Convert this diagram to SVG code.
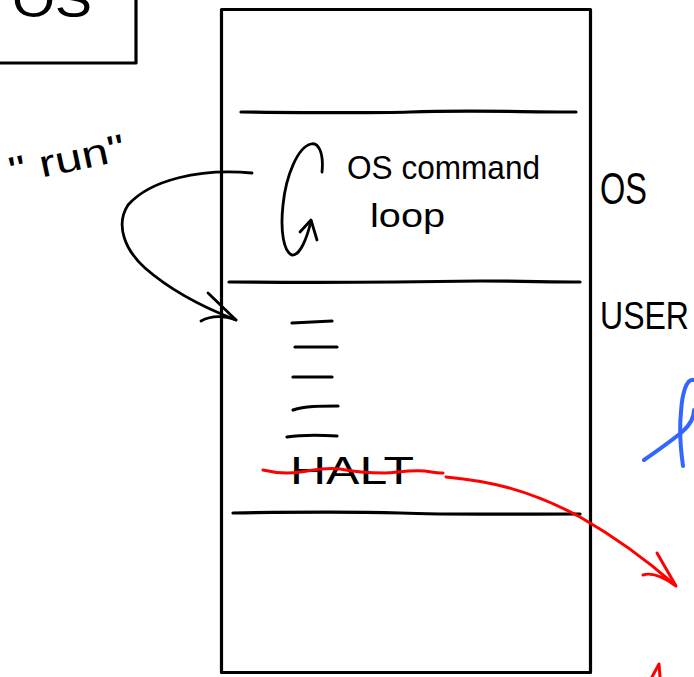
<svg xmlns="http://www.w3.org/2000/svg" width="694" height="677" viewBox="0 0 694 677">
  <style>
    .ink { fill: none; stroke: #000; stroke-width: 3.2; stroke-linecap: round; stroke-linejoin: round; }
    .thin { fill: none; stroke: #000; stroke-width: 2.8; stroke-linecap: round; stroke-linejoin: round; }
    .red { fill: none; stroke: #ff0000; stroke-width: 3; stroke-linecap: round; stroke-linejoin: round; }
    .blue { fill: none; stroke: #3366ff; stroke-width: 4; stroke-linecap: round; stroke-linejoin: round; }
    .hand { font-family: "Liberation Sans", "DejaVu Sans", sans-serif; fill: #000; }
  </style>

  <!-- title box in the corner -->
  <g id="title-box">
    <path class="ink" d="M0,63 L136,63 L136,0" stroke-width="4"/>
    <text class="hand" x="12" y="17" font-size="50" textLength="80" lengthAdjust="spacingAndGlyphs">OS</text>
  </g>

  <!-- memory column -->
  <g id="memory">
    <rect class="ink" x="221.5" y="9.5" width="369" height="663" stroke-linejoin="miter"/>
    <path class="ink" d="M241,112 C330,113 380,113 410,112 C470,110 520,112 576,112"/>
    <path class="ink" d="M229,282 C330,283 420,282 480,281 C520,281 550,282 580,282"/>
    <path class="ink" d="M233,513 C300,512 360,512 400,513 C450,515 520,514 580,514"/>
  </g>

  <!-- OS region -->
  <g id="os-region">
    <text class="hand" x="347" y="179" font-size="34" textLength="193" lengthAdjust="spacingAndGlyphs">OS command</text>
    <text class="hand" x="370" y="227" font-size="34" textLength="75" lengthAdjust="spacingAndGlyphs">loop</text>
    <path class="thin" d="M322,172 C324,152 318,142 311,144 C298,147 286,175 283,205 C280,232 284,252 292,255 C300,256 307,238 311,221"/>
    <path class="thin" d="M300,232 L311,220 L317,240"/>
  </g>

  <!-- user region -->
  <g id="user-region">
    <path class="ink" d="M292,323 L332,321"/>
    <path class="ink" d="M295,347 L337,347"/>
    <path class="ink" d="M293,377 L332,377"/>
    <path class="ink" d="M293,410 C305,406 320,406 338,406"/>
    <path class="ink" d="M287,437 C300,435 320,435 337,436"/>
    <text class="hand" x="290" y="484" font-size="39" textLength="124" lengthAdjust="spacingAndGlyphs">HALT</text>
  </g>

  <!-- side labels -->
  <g id="side-labels">
    <text class="hand" x="600" y="204" font-size="44" textLength="47" lengthAdjust="spacingAndGlyphs">OS</text>
    <text class="hand" x="600" y="329" font-size="38" textLength="89" lengthAdjust="spacingAndGlyphs">USER</text>
  </g>

  <!-- command label -->
  <g id="run-label">
    <text class="hand" x="12" y="184" font-size="38" textLength="118" lengthAdjust="spacingAndGlyphs" transform="rotate(-12 12 184)">" run"</text>
  </g>

  <!-- connectors -->
  <g id="connectors">
    <!-- run: jump into the user program -->
    <path class="thin" d="M252,173 C200,168 150,180 128,205 C115,225 125,250 145,268 C170,290 205,308 236,320"/>
    <path class="thin" d="M208,293 L236,320 C225,316 212,315 201,321"/>
    <!-- halt: leave the program -->
    <path class="red" d="M263,470 C275,473 285,474 300,472 C315,470 325,467 340,469 C355,472 370,473 385,473 C400,472 410,470 425,471 C432,472 438,473 443,473"/>
    <path class="red" d="M446,477 C490,481 530,490 580,517 C615,537 650,563 675,585"/>
    <path class="red" d="M657,553 L676,586 C665,578 652,572 643,575"/>
    <path class="red" d="M652,677 L659,664 L660,677"/>
  </g>

  <!-- scribble at the edge -->
  <g id="edge-mark">
    <path class="blue" d="M644,460 C657,451 670,442 682,432 C690,425 694,418 694,410"/>
    <path class="blue" d="M694,380 C686,378 682,395 681,412 C679,432 681,452 683,466"/>
  </g>
</svg>
